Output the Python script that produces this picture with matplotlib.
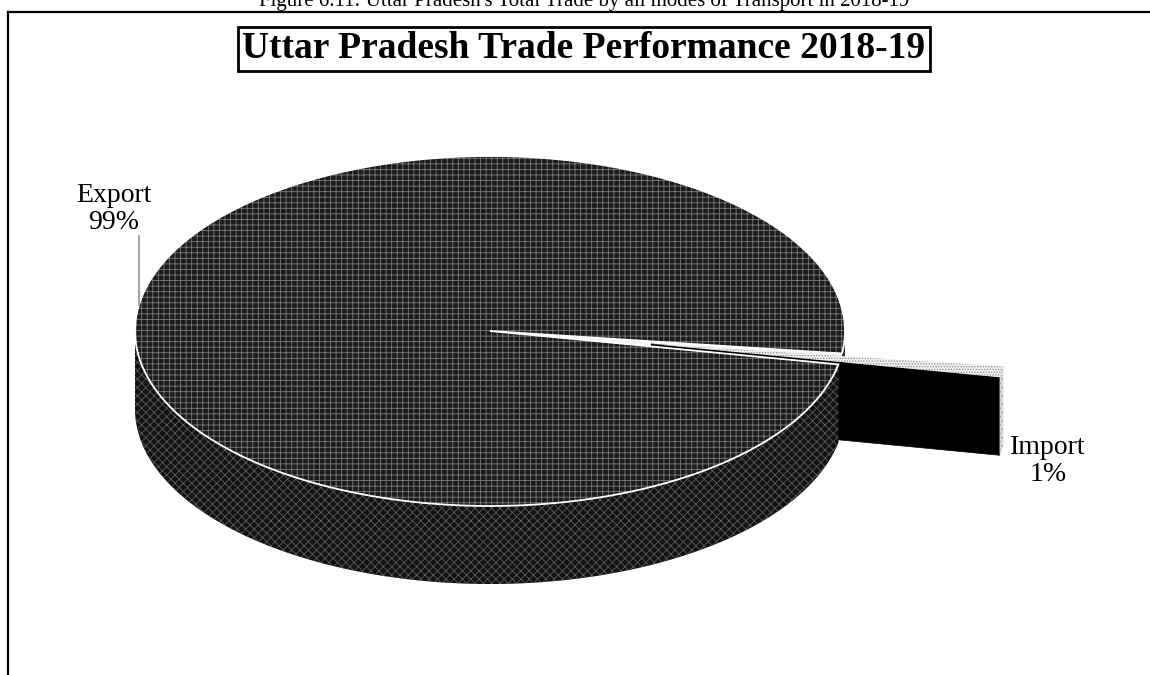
import matplotlib
matplotlib.use("Agg")
import matplotlib.pyplot as plt
from matplotlib.patches import Polygon
import numpy as np

plt.rcParams['font.family'] = ['Liberation Serif', 'DejaVu Serif']
plt.rcParams['hatch.linewidth'] = 0.6

# data
labels = ['Export', 'Import']
values = [99, 1]
explode = [0.0, 0.46]
title = 'Uttar Pradesh Trade Performance 2018-19'
caption = "Figure 6.11: Uttar Pradesh's Total Trade by all modes of Transport in 2018-19"

# 3d pie geometry (pixels)
cx, cy = 490, 331
rx, ry = 355, 175
depth = 78
start = -7.4   # angle where the first slice starts (deg, counter-clockwise)


def pt(th, r=1.0, z=0, sh=(0, 0)):
    t = np.radians(th)
    return (cx + rx * (r * np.cos(t) + sh[0]),
            cy - ry * (r * np.sin(t) + sh[1]) + z * depth)


def arc(a, b, z=0, sh=(0, 0), n=200):
    th = np.linspace(a, b, n)
    return [pt(t, 1, z, sh) for t in th]


def top_face(a, b, sh=(0, 0)):
    return [pt(0, 0, 0, sh)] + arc(a, b, 0, sh)


def wall(a, b, sh=(0, 0)):
    return arc(a, b, 0, sh) + arc(b, a, 1, sh)


def radial(th, sh=(0, 0)):
    return [pt(th, 0, 0, sh), pt(th, 1, 0, sh), pt(th, 1, 1, sh), pt(th, 0, 1, sh)]


def front_pieces(a, b):
    out = []
    for k in (-1, 0, 1):
        lo, hi = max(a, 180 + 360 * k), min(b, 360 + 360 * k)
        if hi > lo:
            out.append((lo, hi))
    return out


total = sum(values)
sweep = [v / total * 360 for v in values]
a_exp, b_exp = start, start + sweep[0]
a_imp, b_imp = b_exp, b_exp + sweep[1]
mid = np.radians((a_imp + b_imp) / 2)
sh_imp = (explode[1] * np.cos(mid), explode[1] * np.sin(mid))

fig = plt.figure(figsize=(11.5, 6.75), dpi=100)
ax = fig.add_axes([0, 0, 1, 1])
ax.set_xlim(0, 1150)
ax.set_ylim(675, 0)
ax.axis('off')

dark_top = dict(facecolor='#1c1c1c', edgecolor='#7a7a7a', hatch='+++', lw=0)
dark_side = dict(facecolor='#121212', edgecolor='#5a5a5a', hatch='xxxx', lw=0)

# export cut face seen through the gap
ax.add_patch(Polygon(radial(a_exp), closed=True, facecolor='#f4f4f4', edgecolor='white', lw=0.8))
# small export wall piece right of the gap
for lo, hi in front_pieces(a_exp, b_exp):
    if hi <= 0:
        ax.add_patch(Polygon(wall(lo, hi), closed=True, **dark_side))

# exploded import slice: cut face and outer wall
ax.add_patch(Polygon(radial(a_imp, sh_imp), closed=True, facecolor='black', edgecolor='black', lw=0.5))
for lo, hi in front_pieces(a_imp, b_imp):
    ax.add_patch(Polygon(wall(lo, hi, sh_imp), closed=True, facecolor='#d8d8d8',
                         edgecolor='#9a9a9a', hatch='....', lw=0))

# main export wall
for lo, hi in front_pieces(a_exp, b_exp):
    if hi > 0:
        ax.add_patch(Polygon(wall(lo, hi), closed=True, **dark_side))

# export top face
ax.add_patch(Polygon(top_face(a_exp, b_exp), closed=True, **dark_top))
ax.add_patch(Polygon(top_face(a_exp, b_exp), closed=True, facecolor='none', edgecolor='white', lw=1.3))

# import top face
ax.add_patch(Polygon(top_face(a_imp, b_imp, sh_imp), closed=True, facecolor='#f0f0f0',
                     edgecolor='#8a8a8a', hatch='......', lw=0))

# labels
pcts = [f'{v / total * 100:.0f}%' for v in values]
ax.text(114, 229, f'{labels[0]}\n{pcts[0]}', ha='center', va='baseline', fontsize=20,
        linespacing=1.1)
lx = 139
ax.plot([lx, lx], [236, pt(180 - np.degrees(np.arccos((cx - lx) / rx)))[1]],
        color='#a6a6a6', lw=1.5)
ax.text(1048, 481, f'{labels[1]}\n{pcts[1]}', ha='center', va='baseline', fontsize=20,
        linespacing=1.1)

# title with box
ax.text(584, 49, title, ha='center', va='center', fontsize=27, fontweight='bold',
        bbox=dict(boxstyle='square,pad=0.12', facecolor='white', edgecolor='black', lw=2))

# frame and cut caption
ax.plot([8, 1150], [12, 12], color='black', lw=1.6)
ax.plot([8, 8], [12, 675], color='black', lw=1.6)
ax.text(584, 6, caption, ha='center', va='baseline', fontsize=15)

fig.savefig('out.png', dpi=100)
